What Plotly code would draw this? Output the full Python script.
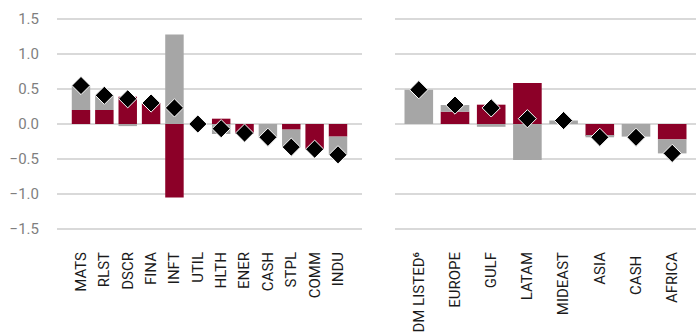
import plotly.graph_objects as go

sectors = ["MATS", "RLST", "DSCR", "FINA", "INFT", "UTIL", "HLTH", "ENER", "CASH", "STPL", "COMM", "INDU"]
sector_red = [0.20, 0.20, 0.39, 0.30, -1.05, 0.0, 0.076, -0.14, 0.0, -0.08, -0.36, -0.18]
sector_gray = [0.35, 0.21, -0.03, 0.0, 1.28, 0.0, -0.143, 0.0, -0.19, -0.25, 0.0, -0.26]
sector_total = [0.55, 0.41, 0.36, 0.30, 0.23, 0.0, -0.067, -0.13, -0.19, -0.33, -0.36, -0.44]

regions = ["DM LISTED⁶", "EUROPE", "GULF", "LATAM", "MIDEAST", "ASIA", "CASH ", "AFRICA"]
region_red = [0.0, 0.176, 0.276, 0.586, 0.0, -0.17, 0.0, -0.22]
region_gray = [0.49, 0.095, -0.04, -0.514, 0.05, -0.02, -0.18, -0.20]
region_total = [0.49, 0.27, 0.23, 0.076, 0.05, -0.19, -0.19, -0.42]

RED = "#8C0028"
GRAY = "#A6A6A6"

fig = go.Figure()

def add_panel(cats, red, gray, total, xa, ya):
    fig.add_trace(go.Bar(x=cats, y=red, marker=dict(color=RED, line=dict(width=0)),
                         xaxis=xa, yaxis=ya, showlegend=False, hoverinfo="skip"))
    fig.add_trace(go.Bar(x=cats, y=gray, marker=dict(color=GRAY, line=dict(width=0)),
                         xaxis=xa, yaxis=ya, showlegend=False, hoverinfo="skip"))
    fig.add_trace(go.Scatter(x=cats, y=total, mode="markers",
                             marker=dict(symbol="diamond", size=14, color="black",
                                         line=dict(color="white", width=1)),
                             xaxis=xa, yaxis=ya, showlegend=False, hoverinfo="skip"))

add_panel(sectors, sector_red, sector_gray, sector_total, "x", "y")
add_panel(regions, region_red, region_gray, region_total, "x2", "y2")

yax = dict(range=[-1.6, 1.6], tickvals=[-1.5, -1.0, -0.5, 0.0, 0.5, 1.0, 1.5],
           tickformat=".1f", showgrid=True, gridcolor="#D9D9D9", gridwidth=2,
           zeroline=False, showline=False, ticks="")
xax = dict(tickangle=-90, showgrid=False, zeroline=False, showline=False, ticks="",
           tickfont=dict(family="Roboto", size=15, color="#1A1A1A"), ticklabelstandoff=12)

fig.update_layout(
    width=696, height=334,
    margin=dict(l=0, r=0, t=12, b=98),
    paper_bgcolor="white", plot_bgcolor="white",
    barmode="relative", bargap=0.21,
    xaxis=dict(domain=[57/696, 362/696], **xax),
    xaxis2=dict(domain=[395/696, 1.0], anchor="y2", **xax),
    yaxis=dict(anchor="x", tickfont=dict(family="Roboto", size=15, color="#7F7F7F"),
               ticklabelstandoff=17, **yax),
    yaxis2=dict(anchor="x2", matches="y", showticklabels=False, **yax),
)

fig.write_html("out.html")
